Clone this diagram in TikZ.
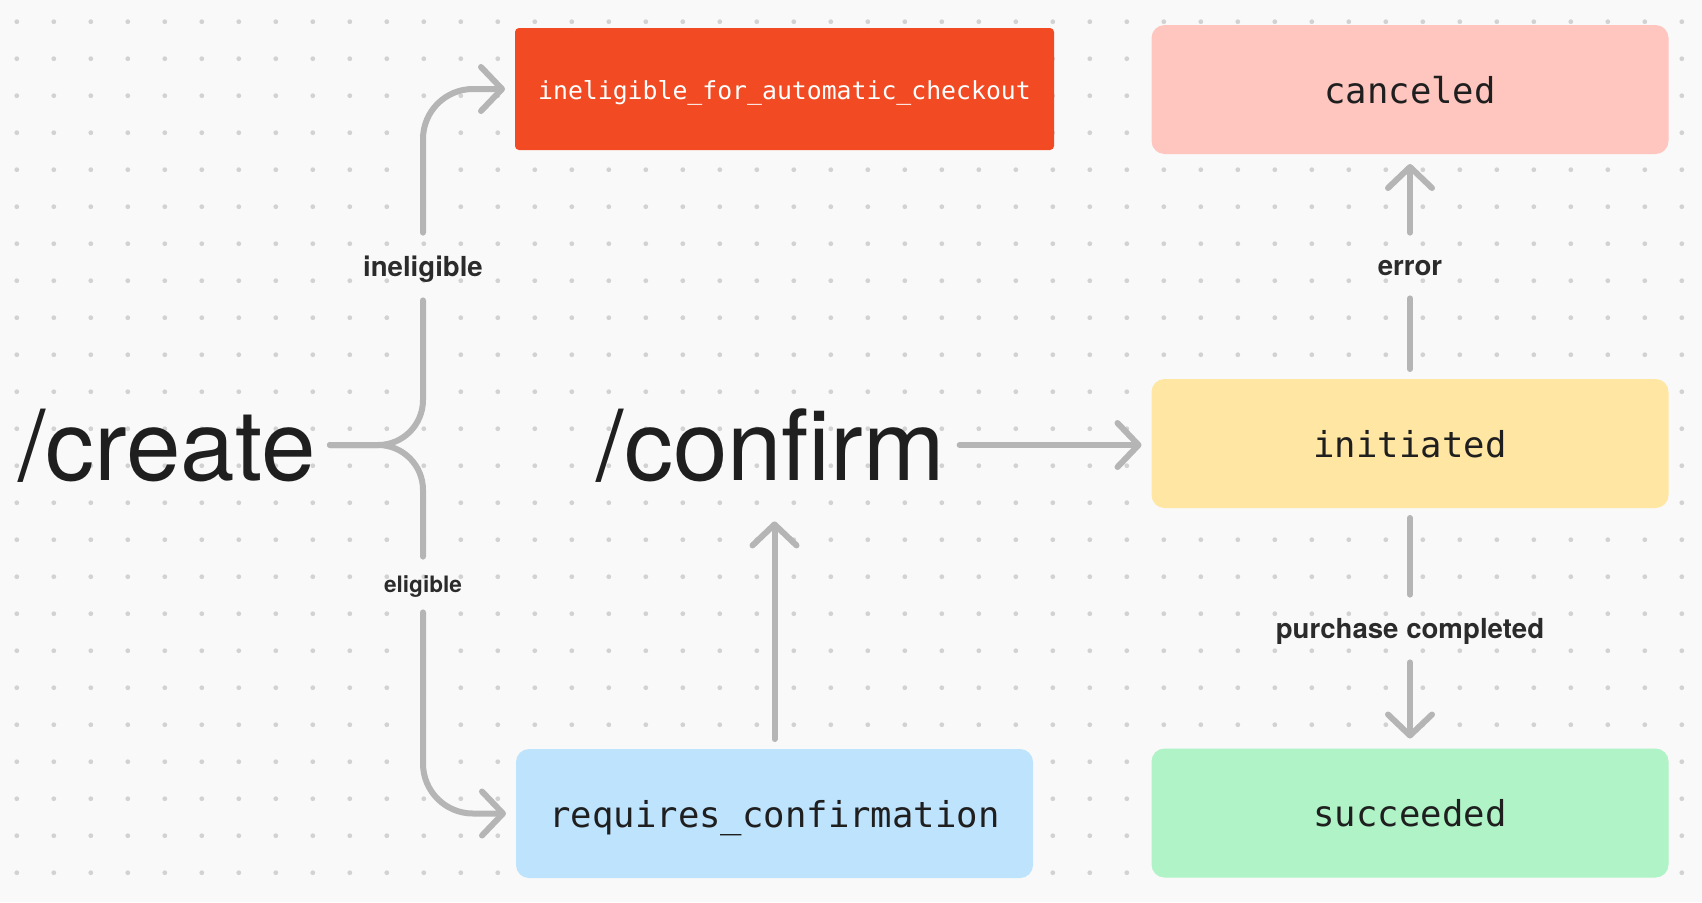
\documentclass[tikz,border=0pt]{standalone}
\usepackage{fontspec}
\setmainfont{TeX Gyre Heros}
\newfontfamily\codefont{DejaVu Sans Mono}
\usetikzlibrary{arrows.meta}
\definecolor{paper}{HTML}{F9F9F9}
\definecolor{dotgray}{HTML}{D2D2D2}
\definecolor{wiregray}{HTML}{B5B5B5}
\definecolor{ink}{HTML}{1F1F1F}
\definecolor{labelink}{HTML}{2B2B2B}
\definecolor{redstate}{HTML}{F24B23}
\definecolor{pinkstate}{HTML}{FFC6BF}
\definecolor{yellowstate}{HTML}{FFE7A3}
\definecolor{greenstate}{HTML}{AFF3C7}
\definecolor{bluestate}{HTML}{BEE3FD}

\begin{document}
\begin{tikzpicture}[x=0.5pt, y=-0.5pt,
  wire/.style={draw=wiregray, line width=3pt, line cap=round, line join=round},
  arr/.style={wire, -{Straight Barb[length=10.5pt, width=22pt, round]}},
  state/.style={rounded corners=6.5pt, minimum width=258.5pt, minimum height=64.5pt, inner sep=0pt, outer sep=5pt,
    font=\codefont\fontsize{17.8}{20}\selectfont, text=ink, text height=13.5pt, text depth=0pt},
  lbl/.style={font=\bfseries\fontsize{13.8}{16}\selectfont, text=labelink, inner sep=0pt, minimum height=33.5pt, text height=10pt, text depth=0pt},
  big/.style={font=\fontsize{49}{55}\selectfont, text=ink, inner xsep=7pt, inner ysep=20.5pt, text height=35pt, text depth=0pt, anchor=base}]
  \useasboundingbox (0,0) rectangle (1702,902);
  \fill[paper] (0,0) rectangle (1702,902);
  \foreach \i in {0,...,45}
    \foreach \j in {0,...,23}
      \fill[dotgray] (16.8+37*\i, 21.7+37*\j) circle[radius=1.2pt];

  \node[big] (create) at (167,480) {/create};
  \node[big] (confirm) at (771,480) {/confirm};

  \node[state, fill=redstate, rounded corners=2pt, minimum width=269.5pt, minimum height=61pt, text=white,
    font=\codefont\fontsize{12.4}{14}\selectfont, text height=10pt] (inelig) at (784.5,89) {ineligible\_for\_automatic\_checkout};
  \node[state, fill=pinkstate] (canceled) at (1410,89.5) {canceled};
  \node[state, fill=yellowstate] (initiated) at (1410,443.5) {initiated};
  \node[state, fill=bluestate] (requires) at (774.5,813.5) {requires\_confirmation};
  \node[state, fill=greenstate] (succeeded) at (1410,813) {succeeded};

  \node[lbl] (ineliglbl) at (423,266.5) {ineligible};
  \node[lbl, font=\bfseries\fontsize{11.3}{13}\selectfont, minimum height=27.5pt, text height=8.2pt] (eliglbl) at (423,584.5) {eligible};
  \node[lbl, minimum height=32.5pt] (errlbl) at (1410,265.5) {error};
  \node[lbl] (purchlbl) at (1410,628.5) {purchase completed};

  \coordinate (fork) at (423,445);
  \draw[wire, rounded corners=22.5pt] (create.east) -- (fork) -- (ineliglbl.south);
  \draw[wire, rounded corners=22.5pt] (create.east) -- (fork) -- (eliglbl.north);
  \draw[arr, rounded corners=25pt] (ineliglbl.north) |- (inelig.west);
  \draw[arr, rounded corners=25pt] (eliglbl.south) |- (requires.west);
  \draw[arr] (requires.north) -- (requires.north |- confirm.south);
  \draw[arr] (confirm.east) -- (confirm.east -| initiated.west);
  \draw[wire] (initiated.north) -- (errlbl.south);
  \draw[arr] (errlbl.north) -- (errlbl.north |- canceled.south);
  \draw[wire] (initiated.south) -- (purchlbl.north);
  \draw[arr] (purchlbl.south) -- (purchlbl.south |- succeeded.north);
\end{tikzpicture}
\end{document}
